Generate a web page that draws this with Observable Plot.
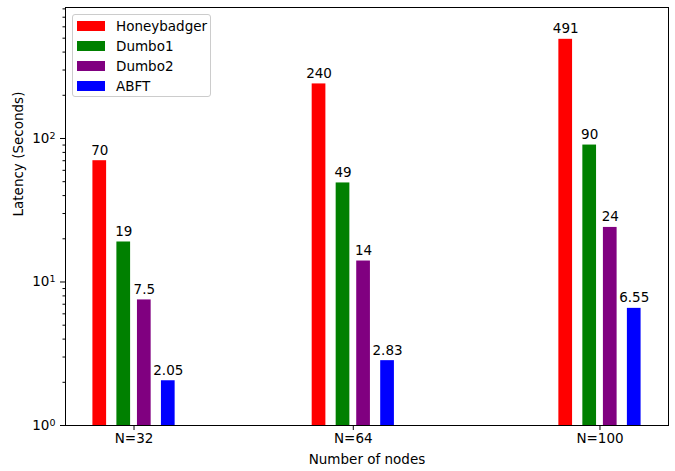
<!DOCTYPE html>
<html>
<head>
<meta charset="utf-8">
<script src="https://cdn.jsdelivr.net/npm/d3@7"></script>
<script src="https://cdn.jsdelivr.net/npm/@observablehq/plot@0.6"></script>
<style>
  body { margin: 0; background: #fff; }
  #wrap { position: relative; width: 675px; height: 471px; font-family: "DejaVu Sans", sans-serif; }
  #legend { position: absolute; left: 72px; top: 14px; width: 139px; height: 83px; box-sizing: border-box;
    border: 1px solid #cccccc; border-radius: 3px; background: rgba(255,255,255,0.8); font-size: 13.5px; }
  .row { position: absolute; left: 4px; height: 20px; display: flex; align-items: center; }
  .sw { width: 28px; height: 10px; margin-right: 11px; }
</style>
</head>
<body>
<div id="wrap"></div>
<script>
const nodes = [32, 64, 100];
const series = ["Honeybadger", "Dumbo1", "Dumbo2", "ABFT"];
const colors = ["#ff0000", "#008000", "#800080", "#0000ff"];
const honeybadger = [70, 240, 491];
const dumbo1 = [19, 49, 90];
const dumbo2 = [7.5, 14, 24];
const abft = [2.05, 2.83, 6.55];
const labels = [["70", "240", "491"], ["19", "49", "90"], ["7.5", "14", "24"], ["2.05", "2.83", "6.55"]];
const yTicks = [1, 10, 100];
const yTickExponents = ["0", "1", "2"];

const values = [honeybadger, dumbo1, dumbo2, abft];
const offsets = [-5, -1.5, 1.5, 5];
const halfWidth = 1;
const bars = [];
series.forEach((s, i) => nodes.forEach((n, j) => {
  bars.push({series: s, n, x1: n + offsets[i] - halfWidth, x2: n + offsets[i] + halfWidth,
    xc: n + offsets[i], value: values[i][j], label: labels[i][j]});
}));
const minor = [];
for (const d of [1, 10, 100]) for (let k = 2; k <= 9; k++) if (d * k < 818) minor.push(d * k);

const chart = Plot.plot({
  width: 675,
  height: 471,
  marginLeft: 65,
  marginRight: 7,
  marginTop: 7,
  marginBottom: 46,
  style: {fontFamily: "DejaVu Sans", fontSize: "13.5px", background: "white", color: "black"},
  x: {domain: [22, 110]},
  y: {type: "log", domain: [1, 818]},
  color: {domain: series, range: colors},
  marks: [
    Plot.rect(bars, {x1: "x1", x2: "x2", y1: 1, y2: "value", fill: "series"}),
    Plot.text(bars, {x: "xc", y: "value", text: "label", lineAnchor: "bottom", dy: -6, fill: "black"}),
    Plot.axisX({ticks: nodes, tickFormat: d => `N=${d}`, tickSize: 5, tickPadding: 3, label: null}),
    Plot.axisY({ticks: yTicks, tickFormat: d => `10^${yTickExponents[yTicks.indexOf(d)]}`, tickSize: 5, tickPadding: 5, label: null}),
    Plot.axisY({ticks: minor, tickFormat: () => "", tickSize: 2.5, label: null}),
    Plot.frame({stroke: "black", strokeWidth: 1}),
    Plot.text(["Number of nodes"], {frameAnchor: "bottom", dy: 34, lineAnchor: "middle", fill: "black"}),
    Plot.text(["Latency (Seconds)"], {frameAnchor: "left", dx: -47, rotate: -90, lineAnchor: "middle", fill: "black"})
  ]
});

// render superscript exponents like matplotlib mathtext
d3.select(chart).selectAll("text").each(function() {
  const t = this.textContent;
  const m = /^10\^(\d)$/.exec(t);
  if (m) {
    const sel = d3.select(this);
    sel.text("10");
    sel.append("tspan").attr("dy", "-0.42em").attr("font-size", "9.5px").text(m[1]);
  }
});

const wrap = document.getElementById("wrap");
wrap.appendChild(chart);
const legend = document.createElement("div");
legend.id = "legend";
series.forEach((s, i) => {
  const row = document.createElement("div");
  row.className = "row";
  row.style.top = (1 + i * 20) + "px";
  const sw = document.createElement("div");
  sw.className = "sw";
  sw.style.background = colors[i];
  const t = document.createElement("span");
  t.textContent = s;
  row.appendChild(sw);
  row.appendChild(t);
  legend.appendChild(row);
});
wrap.appendChild(legend);
</script>
</body>
</html>
